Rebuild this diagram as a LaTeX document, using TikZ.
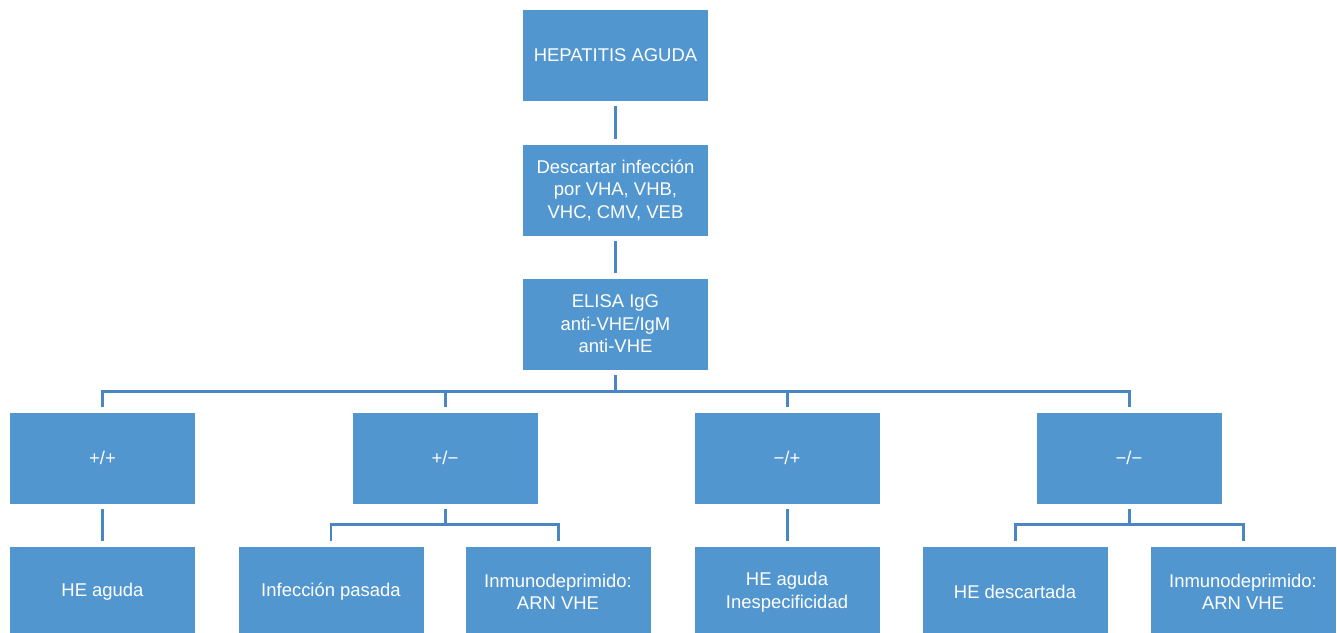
\documentclass[tikz,border=0pt]{standalone}
\usepackage{fontspec}
\setmainfont{Liberation Sans}
\usetikzlibrary{positioning,calc}
\definecolor{boxblue}{RGB}{82,150,208}
\definecolor{linkblue}{RGB}{74,134,196}

\begin{document}
\begin{tikzpicture}[
  stage/.style={fill=boxblue,draw=white,line width=.4pt,align=center,
    text=white,minimum width=3.72cm,minimum height=1.84cm,inner sep=2pt,
    font=\fontsize{10.5}{12.8}\selectfont},
  result/.style={stage},
  link/.style={draw=linkblue,line width=1.7pt,line cap=butt,
    shorten <=2.5pt,shorten >=2.5pt},
  fork/.style={draw=linkblue,line width=1.7pt,line cap=butt}
]
% Page bounds follow the reference proportions.
\useasboundingbox (0,0) rectangle (26.74,-12.64);

\node[stage] (hep) at (12.31,-1.11) {HEPATITIS AGUDA};
\node[stage] (excl) at (12.31,-3.80)
  {Descartar infección\\por VHA, VHB,\\VHC, CMV, VEB};
\node[stage] (elisa) at (12.31,-6.48)
  {ELISA IgG\\anti-VHE/IgM\\anti-VHE};

\node[result] (pp) at (2.05,-9.16) {+/+};
\node[result] (pm) at (8.90,-9.16) {+/−};
\node[result] (mp) at (15.74,-9.16) {−/+};
\node[result] (mm) at (22.58,-9.16) {−/−};

\node[result] (pp-acute) at (2.05,-11.84) {HE aguda};
\node[result] (pm-past) at (6.62,-11.84) {Infección pasada};
\node[result] (pm-immuno) at (11.16,-11.84) {Inmunodeprimido:\\ARN VHE};
\node[result] (mp-acute) at (15.74,-11.84) {HE aguda\\Inespecificidad};
\node[result] (mm-ruled) at (20.30,-11.84) {HE descartada};
\node[result] (mm-immuno) at (24.86,-11.84) {Inmunodeprimido:\\ARN VHE};

\coordinate (bus) at (0,-7.82);
\coordinate (pm-bus) at (0,-10.48);

\draw[link] (hep) -- (excl);
\draw[link] (excl) -- (elisa);

\draw[link,shorten >=0pt] (elisa.south) -- (elisa.south |- bus);
\draw[link] (pp.north) -- (pp.north |- bus) -- (mm.north |- bus) -- (mm.north);
\draw[link,shorten <=0pt] (pm.north |- bus) -- (pm.north);
\draw[link,shorten <=0pt] (mp.north |- bus) -- (mp.north);

\draw[link] (pp) -- (pp-acute);
\draw[link] (mp) -- (mp-acute);

\draw[link,shorten >=0pt] (pm.south) -- (pm.south |- pm-bus);
\draw[link] (pm-past.north) -- (pm-past.north |- pm-bus)
  -- (pm-immuno.north |- pm-bus) -- (pm-immuno.north);
\draw[link,shorten >=0pt] (mm.south) -- (mm.south |- pm-bus);
\draw[link] (mm-ruled.north) -- (mm-ruled.north |- pm-bus)
  -- (mm-immuno.north |- pm-bus) -- (mm-immuno.north);
\end{tikzpicture}
\end{document}
